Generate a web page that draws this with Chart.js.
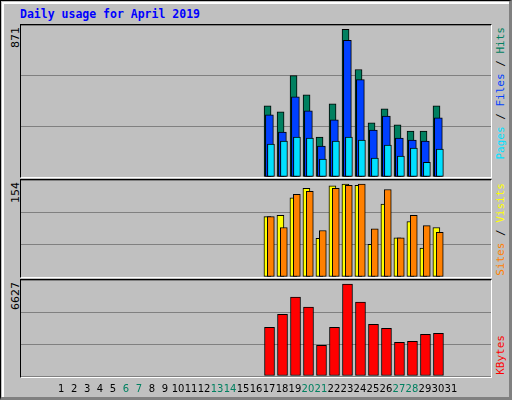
<!DOCTYPE html>
<html><head><meta charset="utf-8">
<script src="https://cdn.jsdelivr.net/npm/chart.js@4"></script>
<style>
body{margin:0;background:#fff}
#frame{position:absolute;left:0;top:0;background:#c0c0c0;border:1px solid #000;border-right:3px solid #808080;border-bottom:3px solid #808080;box-sizing:border-box;width:512px;height:400px}
#hl{position:absolute;left:1px;top:1px;width:507px;height:395px;border-left:2px solid #fff;border-top:2px solid #fff;box-sizing:border-box}
.panel{position:absolute;left:20px;width:472px;border-left:1px solid #000;border-top:1px solid #000;border-right:1px solid #fff;border-bottom:1px solid #fff;box-sizing:border-box}
canvas{position:absolute}
.title{position:absolute;left:20px;top:7px;font:bold 11.5px "DejaVu Sans Mono",monospace;color:#0000ff;white-space:nowrap}
.vt{position:absolute;writing-mode:vertical-rl;transform:rotate(180deg);font:11px "DejaVu Sans Mono",monospace;white-space:nowrap}
.lv{font:11px "DejaVu Sans",sans-serif;color:#000}
</style></head><body>
<div id="frame"><div id="hl"></div></div>
<div class="panel" style="top:24px;height:154px"></div>
<div class="panel" style="top:179px;height:99px"></div>
<div class="panel" style="top:279px;height:99px"></div>
<div class="title">Daily usage for April 2019</div>
<div class="vt lv" id="m1" style="left:9px;top:27px"></div>
<div class="vt lv" id="m2" style="left:9px;top:182px"></div>
<div class="vt lv" id="m3" style="left:9px;top:282px"></div>
<div class="vt" style="left:494px;top:27px"><span style="color:#00e0ff">Pages</span> / <span style="color:#0040ff">Files</span> / <span style="color:#008060">Hits</span></div>
<div class="vt" style="left:494px;bottom:124px"><span style="color:#ff8000">Sites</span> / <span style="color:#ffff00">Visits</span></div>
<div class="vt" style="left:494px;bottom:25px"><span style="color:#ff0000">KBytes</span></div>
<canvas id="c1" style="left:21px;top:25px"></canvas>
<canvas id="c2" style="left:21px;top:180px"></canvas>
<canvas id="c3" style="left:21px;top:280px"></canvas>
<script>
const days=[17,18,19,20,21,22,23,24,25,26,27,28,29,30];
const hits=[420,384,598,485,236,432,871,634,319,402,307,271,271,420];
const files=[366,265,473,390,182,337,806,574,277,360,230,218,212,349];
const pages=[194,212,236,230,105,212,236,218,111,188,123,170,87,165];
const sites=[100,102,131,147,64,151,154,152,54,121,65,92,48,82];
const visits=[100,82,137,142,77,147,152,154,80,145,65,102,85,74];
const kbytes=[3509,4452,5684,4959,2204,3509,6627,5322,3727,3437,2422,2494,3002,3074];
const allDays=Array.from({length:31},(_,i)=>i+1);
const weekend=[6,7,13,14,20,21,27,28];
document.getElementById('m1').textContent=Math.max(...hits);
document.getElementById('m2').textContent=Math.max(...sites,...visits);
document.getElementById('m3').textContent=Math.max(...kbytes);
Chart.defaults.animation=false;
function ds(vals,off,color,w){return{data:days.map((d,i)=>({x:d+off,y:vals[i]})),backgroundColor:color,borderColor:'#000',borderWidth:1,borderSkipped:false,barThickness:w,grouped:false};}
function mk(id,w,h,top,datasets,padB,plugins){
 const c=document.getElementById(id);c.width=w;c.height=h;c.style.width=w+'px';c.style.height=h+'px';
 return new Chart(c,{type:'bar',data:{datasets},options:{responsive:false,devicePixelRatio:1,layout:{padding:{bottom:padB}},
  plugins:{legend:{display:false},tooltip:{enabled:false}},
  scales:{x:{type:'linear',min:0.5,max:31.5,display:false},
   y:{min:0,max:top,ticks:{display:false,stepSize:top/3},grid:{color:'#808080',drawTicks:false},border:{display:false}}}},plugins:plugins||[]});
}
mk('c1',470,152,896.5,[ds(pages,0.15,'#00e0ff',7),ds(files,0.03,'#0040ff',8),ds(hits,-0.11,'#008060',7)],0);
mk('c2',470,97,160.7,[ds(visits,0.14,'#ff8000',7),ds(sites,-0.12,'#ffff00',7)],0);
mk('c3',470,118,6917,[ds(kbytes,0.04,'#ff0000',10)],22,[{id:'dl',afterDraw(ch){const x=ch.scales.x,c=ch.ctx;c.save();c.font='10px "DejaVu Sans",sans-serif';c.textAlign='center';c.textBaseline='middle';
 allDays.forEach(d=>{c.fillStyle=weekend.includes(d)?'#008060':'#000';c.fillText(String(d),x.getPixelForValue(d),109);});c.restore();}}]);
</script></body></html>
